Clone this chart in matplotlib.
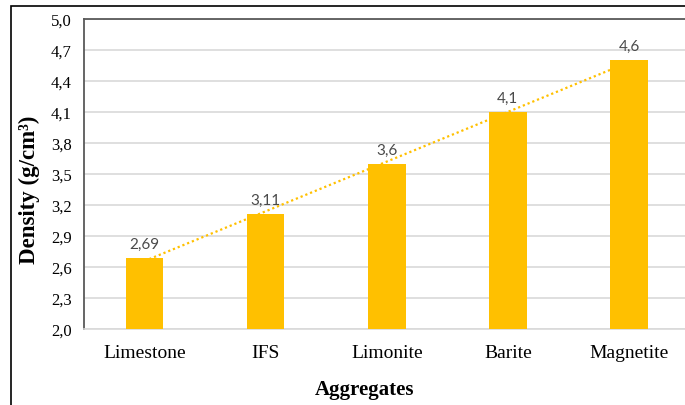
import numpy as np
import matplotlib
matplotlib.use("Agg")
import matplotlib.pyplot as plt
from matplotlib.patches import Rectangle

aggregates = ["Limestone", "IFS", "Limonite", "Barite", "Magnetite"]
density = [2.69, 3.11, 3.6, 4.1, 4.6]
density_labels = ["2,69", "3,11", "3,6", "4,1", "4,6"]
yticks = [2.0, 2.3, 2.6, 2.9, 3.2, 3.5, 3.8, 4.1, 4.4, 4.7, 5.0]

bar_color = "#FFC000"

fig = plt.figure(figsize=(6.85, 4.06), dpi=100)
ax = fig.add_axes([84 / 685, 76 / 406, 605.5 / 685, 310 / 406])

x = np.arange(len(aggregates))
ax.bar(x, density, width=0.31, color=bar_color, zorder=3)

# linear trend through the bar tops, drawn behind the bars
coef = np.polyfit(x, density, 1)
ax.plot(x, np.polyval(coef, x), color=bar_color, lw=1.6,
        linestyle=(0, (1, 1.3)), zorder=2)

for xi, v, lab in zip(x, density, density_labels):
    ax.annotate(lab, (xi, v), xytext=(0, 5), textcoords="offset points",
                ha="center", va="bottom", fontsize=11, color="#4a4a4a",
                family="Lato")

ax.set_xlim(-0.5, len(aggregates) - 0.5)
ax.set_ylim(2.0, 5.0)
ax.set_yticks(yticks)
ax.set_yticklabels([f"{t:.1f}".replace(".", ",") for t in yticks],
                   family="Liberation Serif", fontsize=12)
ax.set_xticks(x)
ax.set_xticklabels(aggregates, family="Liberation Serif", fontsize=14)
ax.tick_params(axis="both", length=0)
ax.tick_params(axis="y", pad=9)
ax.tick_params(axis="x", pad=11)

ax.grid(axis="y", color="#D9D9D9", lw=1.2, zorder=0)
ax.set_axisbelow(True)
ax.spines["left"].set_color("#595959")
ax.spines["left"].set_linewidth(1.3)
ax.spines["top"].set_color("#595959")
ax.spines["top"].set_linewidth(1.3)
ax.spines["bottom"].set_color("#D9D9D9")
ax.spines["bottom"].set_linewidth(1.2)
ax.spines["right"].set_visible(False)

fig.text(365 / 685, 1 - 390 / 406, "Aggregates", ha="center", va="center",
         family="Liberation Serif", fontweight="bold", fontsize=15)
fig.text(29 / 685, 1 - 190 / 406, "Density (g/cm³)", ha="center", va="center",
         rotation=90, family="Liberation Serif", fontweight="bold", fontsize=16.5)

# outer frame around the chart
fig.patches.append(Rectangle((11 / 685, -0.1), 1.2, 1 - 7 / 406 + 0.1,
                             transform=fig.transFigure, fill=False,
                             edgecolor="black", lw=1.2))

fig.savefig("out.png", dpi=100)
